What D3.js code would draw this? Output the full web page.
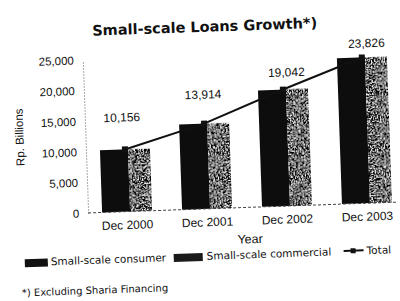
<!DOCTYPE html>
<html lang="en">
<head>
<meta charset="UTF-8">
<title>Small-scale Loans Growth</title>
<style>
  body { margin: 0; background: #fff; }
  svg { display: block; }
  text { fill: #111; }
  .tick text { font-family: "Liberation Sans", Arial, sans-serif; font-size: 11.5px; fill: #111; }
  .geo { font-family: "DejaVu Sans", sans-serif; }
</style>
</head>
<body>
<svg id="chart" width="400" height="301"></svg>

<script src="https://cdn.jsdelivr.net/npm/d3@7"></script>
<script>
// data
var categories = ["Dec 2000", "Dec 2001", "Dec 2002", "Dec 2003"];
var totals = [10156, 13914, 19042, 23826];
var yTicks = [0, 5000, 10000, 15000, 20000, 25000];
var legendNames = ["Small-scale consumer", "Small-scale commercial", "Total"];

// layout
var plotL = 86, plotR = 404, plotT = 56, plotB = 209;
// value labels are not all at the same distance above the bars
var labelShift = [[-2, 28], [0, 25], [4, 13], [5, 10]];

var svg = d3.select("#chart");

var defs = svg.append("defs");
var f = defs.append("filter").attr("id", "speckle")
    .attr("x", 0).attr("y", 0).attr("width", 1).attr("height", 1);
f.append("feTurbulence").attr("type", "fractalNoise")
    .attr("baseFrequency", 0.7).attr("numOctaves", 2).attr("seed", 4).attr("result", "n");
f.append("feColorMatrix").attr("in", "n").attr("type", "matrix")
    .attr("values", "4 0 0 0 -1.95  4 0 0 0 -1.95  4 0 0 0 -1.95  0 0 0 0 1")
    .attr("result", "g");
f.append("feComposite").attr("in", "g").attr("in2", "SourceGraphic").attr("operator", "in");

// the scan is a little tilted
var g = svg.append("g").attr("transform", "rotate(-2,200,150)");

var x = d3.scaleBand().domain(categories).range([plotL, plotR])
    .paddingInner(0.375).paddingOuter(0.175);
var y = d3.scaleLinear().domain([0, 25000]).range([plotB, plotT]);

// title
g.append("text").attr("class", "geo")
    .attr("x", 209).attr("y", 32)
    .attr("text-anchor", "middle")
    .style("font-size", "14.5px").style("font-weight", "bold")
    .text("Small-scale Loans Growth*)");

// y axis
var yAxis = g.append("g").attr("transform", "translate(" + plotL + ",0)")
    .call(d3.axisLeft(y).tickValues(yTicks).tickFormat(d3.format(",")).tickSize(0).tickPadding(9));
yAxis.select(".domain").attr("stroke", "#555").attr("stroke-dasharray", "1,2");

g.append("text")
    .attr("transform", "translate(24,131) rotate(-90)")
    .attr("text-anchor", "middle")
    .style("font-family", "Liberation Sans, Arial, sans-serif")
    .style("font-size", "11.5px")
    .text("Rp. Billions");

// bars: dark left part (consumer), speckled right part (commercial)
var bw = x.bandwidth(), split = 0.56;
g.selectAll(".cons").data(totals).enter().append("rect")
    .attr("class", "cons")
    .attr("x", function(d, i) { return x(categories[i]); })
    .attr("y", function(d) { return y(d); })
    .attr("width", bw * split)
    .attr("height", function(d) { return y(0) - y(d); })
    .attr("fill", "#0d0d0d");
g.selectAll(".comm").data(totals).enter().append("rect")
    .attr("class", "comm")
    .attr("x", function(d, i) { return x(categories[i]) + bw * split; })
    .attr("y", function(d) { return y(d); })
    .attr("width", bw * (1 - split))
    .attr("height", function(d) { return y(0) - y(d); })
    .attr("fill", "#333")
    .attr("filter", "url(#speckle)");

// x axis
var xAxis = g.append("g").attr("transform", "translate(0," + plotB + ")")
    .call(d3.axisBottom(x).tickSize(0).tickPadding(9));
xAxis.select(".domain").attr("stroke", "#444").attr("stroke-dasharray", "3,2")
    .attr("d", "M" + plotL + ",0H" + (plotR - 10));
xAxis.selectAll(".tick text").style("font-size", "12px");

g.append("text")
    .attr("x", 247).attr("y", 245)
    .attr("text-anchor", "middle")
    .style("font-family", "Liberation Sans, Arial, sans-serif")
    .style("font-size", "12.5px")
    .text("Year");

// total line
var cx = function(i) { return x(categories[i]) + bw / 2; };
var line = d3.line().x(function(d, i) { return cx(i); }).y(function(d) { return y(d); });
g.append("path").datum(totals).attr("d", line)
    .attr("fill", "none").attr("stroke", "#111").attr("stroke-width", 2);
g.selectAll(".mk").data(totals).enter().append("rect")
    .attr("class", "mk")
    .attr("x", function(d, i) { return cx(i) - 3; })
    .attr("y", function(d) { return y(d) - 3; })
    .attr("width", 6).attr("height", 6)
    .attr("fill", "#111");

// value labels
g.selectAll(".val").data(totals).enter().append("text")
    .attr("class", "val")
    .attr("x", function(d, i) { return cx(i) + labelShift[i][0]; })
    .attr("y", function(d, i) { return y(d) - labelShift[i][1]; })
    .attr("text-anchor", "middle")
    .style("font-family", "Liberation Sans, Arial, sans-serif")
    .style("font-size", "12px")
    .text(function(d) { return d3.format(",")(d); });

// legend
var lg = g.append("g").attr("class", "geo").style("font-size", "10.5px");
lg.append("rect").attr("x", 21).attr("y", 253).attr("width", 23).attr("height", 8).attr("fill", "#111");
lg.append("text").attr("x", 47).attr("y", 260).text(legendNames[0]);
lg.append("rect").attr("x", 170).attr("y", 253).attr("width", 29).attr("height", 8).attr("fill", "#1a1a1a");
lg.append("text").attr("x", 203).attr("y", 260).text(legendNames[1]);
lg.append("line").attr("x1", 340).attr("x2", 360).attr("y1", 256).attr("y2", 256)
    .attr("stroke", "#111").attr("stroke-width", 2);
lg.append("rect").attr("x", 347).attr("y", 253.5).attr("width", 5).attr("height", 5).attr("fill", "#111");
lg.append("text").attr("x", 363).attr("y", 260).text(legendNames[2]);

// footnote
g.append("text").attr("class", "geo")
    .attr("x", 17).attr("y", 290)
    .style("font-size", "10px")
    .text("*) Excluding Sharia Financing");
</script>
</body>
</html>
